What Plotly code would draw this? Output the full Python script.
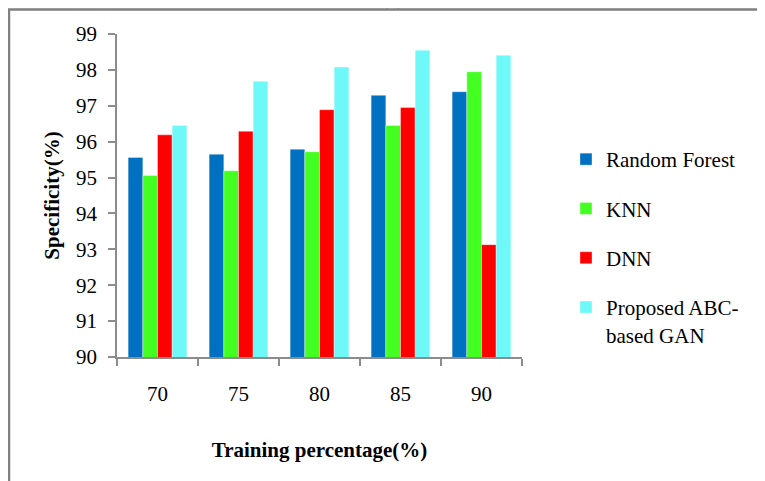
import plotly.graph_objects as go

categories = ["70", "75", "80", "85", "90"]
random_forest = [95.56, 95.65, 95.79, 97.29, 97.39]
knn = [95.06, 95.19, 95.72, 96.45, 97.95]
dnn = [96.19, 96.29, 96.89, 96.95, 93.13]
abc_gan = [96.45, 97.68, 98.08, 98.55, 98.41]

series = [
    ("Random Forest", random_forest, "#0070C0"),
    ("KNN", knn, "#44FF22"),
    ("DNN", dnn, "#FF0000"),
    ("Proposed ABC-<br>based GAN", abc_gan, "#6EF8F8"),
]

FONT = "Liberation Serif"

fig = go.Figure()
for i, (name, vals, col) in enumerate(series):
    fig.add_trace(go.Bar(
        x=categories, y=vals, name=name, legendgroup=f"g{i}",
        marker=dict(color=col, line=dict(color="rgba(255,255,255,0.6)", width=0.6)),
    ))

# the page body adds an 8px offset; compensate so the plot lands where the reference has it
OFF = 8
W, H = 765, 481
L, R, T, B = 117 - OFF, 243 + OFF, 34 - OFF, 124 + OFF
pw, ph = W - L - R, H - T - B

def px2x(px):
    return (px - OFF - L) / pw

def py2y(py):
    return (H - B - (py - OFF)) / ph

fig.update_layout(
    width=W, height=H,
    margin=dict(l=L, r=R, t=T, b=B, autoexpand=False),
    paper_bgcolor="white", plot_bgcolor="white",
    barmode="group", bargap=0.275, bargroupgap=0,
    font=dict(family=FONT, color="black", size=21),
    showlegend=True,
    legend=dict(
        x=px2x(566), y=py2y(139), xanchor="left", yanchor="top",
        font=dict(family=FONT, size=21, color="black"),
        tracegroupgap=19, traceorder="grouped", valign="top",
        bgcolor="rgba(0,0,0,0)",
    ),
    xaxis=dict(
        type="category", showline=True, linecolor="#8C8C8C", linewidth=1.5,
        ticks="outside", ticklen=7, tickcolor="#8C8C8C", tickwidth=1.5,
        tickson="boundaries", showgrid=False, zeroline=False,
        tickfont=dict(family=FONT, size=21), ticklabelstandoff=17,
        title=dict(text="<b>Training percentage(%)</b>", font=dict(family=FONT, size=21), standoff=37),
    ),
    yaxis=dict(
        range=[90, 99], dtick=1, showline=True, linecolor="#8C8C8C", linewidth=1.5,
        ticks="outside", ticklen=7, tickcolor="#8C8C8C", tickwidth=1.5,
        showgrid=False, zeroline=False,
        tickfont=dict(family=FONT, size=21), ticklabelstandoff=7,
        title=dict(text="<b>Specificity(%)</b>", font=dict(family=FONT, size=21), standoff=11),
    ),
    shapes=[dict(
        type="rect", xref="paper", yref="paper",
        x0=px2x(9), x1=px2x(830), y0=py2y(570), y1=py2y(9.5),
        line=dict(color="#808080", width=2.5), fillcolor="rgba(0,0,0,0)", layer="below",
    )],
    annotations=[dict(
        text="(a)", xref="paper", yref="paper", x=px2x(392), y=py2y(-3),
        xanchor="center", yanchor="middle", showarrow=False,
        font=dict(family=FONT, size=21, color="black"),
    )],
)

fig.write_html("out.html")
